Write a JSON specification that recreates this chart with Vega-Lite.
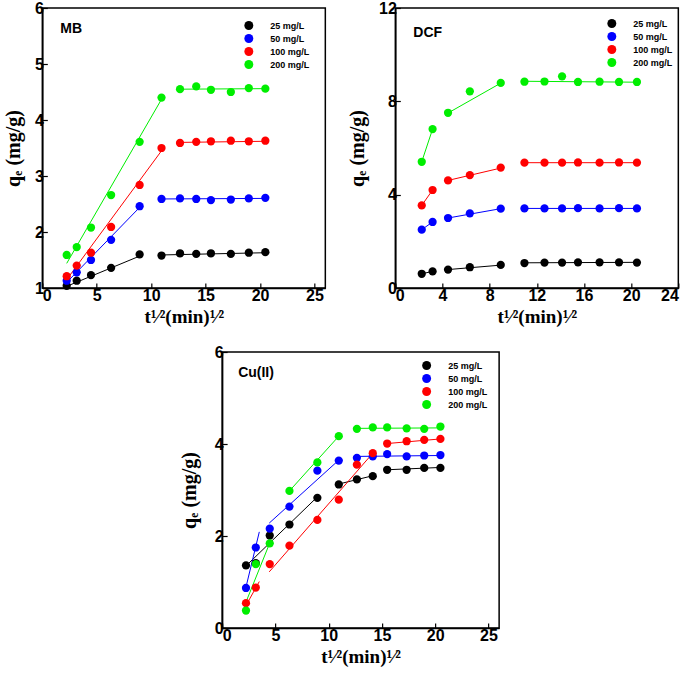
{
  "$schema": "https://vega.github.io/schema/vega-lite/v6.json",
  "padding": {"left": 2, "top": -1, "right": 5, "bottom": 5},
  "background": "white",
  "datasets": {
    "pts": [
      {"p": "MB", "c": "25 mg/L", "x": 2.24, "q": 1.04},
      {"p": "MB", "c": "25 mg/L", "x": 3.16, "q": 1.13},
      {"p": "MB", "c": "25 mg/L", "x": 4.47, "q": 1.23},
      {"p": "MB", "c": "25 mg/L", "x": 6.32, "q": 1.36},
      {"p": "MB", "c": "25 mg/L", "x": 8.94, "q": 1.6},
      {"p": "MB", "c": "25 mg/L", "x": 10.95, "q": 1.58},
      {"p": "MB", "c": "25 mg/L", "x": 12.65, "q": 1.62},
      {"p": "MB", "c": "25 mg/L", "x": 14.14, "q": 1.61},
      {"p": "MB", "c": "25 mg/L", "x": 15.49, "q": 1.62},
      {"p": "MB", "c": "25 mg/L", "x": 17.32, "q": 1.61},
      {"p": "MB", "c": "25 mg/L", "x": 18.97, "q": 1.63},
      {"p": "MB", "c": "25 mg/L", "x": 20.49, "q": 1.64},
      {"p": "MB", "c": "50 mg/L", "x": 2.24, "q": 1.13},
      {"p": "MB", "c": "50 mg/L", "x": 3.16, "q": 1.28},
      {"p": "MB", "c": "50 mg/L", "x": 4.47, "q": 1.5},
      {"p": "MB", "c": "50 mg/L", "x": 6.32, "q": 1.86},
      {"p": "MB", "c": "50 mg/L", "x": 8.94, "q": 2.46},
      {"p": "MB", "c": "50 mg/L", "x": 10.95, "q": 2.59},
      {"p": "MB", "c": "50 mg/L", "x": 12.65, "q": 2.6},
      {"p": "MB", "c": "50 mg/L", "x": 14.14, "q": 2.59},
      {"p": "MB", "c": "50 mg/L", "x": 15.49, "q": 2.57},
      {"p": "MB", "c": "50 mg/L", "x": 17.32, "q": 2.58},
      {"p": "MB", "c": "50 mg/L", "x": 18.97, "q": 2.6},
      {"p": "MB", "c": "50 mg/L", "x": 20.49, "q": 2.61},
      {"p": "MB", "c": "100 mg/L", "x": 2.24, "q": 1.21},
      {"p": "MB", "c": "100 mg/L", "x": 3.16, "q": 1.4},
      {"p": "MB", "c": "100 mg/L", "x": 4.47, "q": 1.63},
      {"p": "MB", "c": "100 mg/L", "x": 6.32, "q": 2.09},
      {"p": "MB", "c": "100 mg/L", "x": 8.94, "q": 2.84},
      {"p": "MB", "c": "100 mg/L", "x": 10.95, "q": 3.5},
      {"p": "MB", "c": "100 mg/L", "x": 12.65, "q": 3.59},
      {"p": "MB", "c": "100 mg/L", "x": 14.14, "q": 3.61},
      {"p": "MB", "c": "100 mg/L", "x": 15.49, "q": 3.62},
      {"p": "MB", "c": "100 mg/L", "x": 17.32, "q": 3.63},
      {"p": "MB", "c": "100 mg/L", "x": 18.97, "q": 3.62},
      {"p": "MB", "c": "100 mg/L", "x": 20.49, "q": 3.63},
      {"p": "MB", "c": "200 mg/L", "x": 2.24, "q": 1.59},
      {"p": "MB", "c": "200 mg/L", "x": 3.16, "q": 1.73},
      {"p": "MB", "c": "200 mg/L", "x": 4.47, "q": 2.08},
      {"p": "MB", "c": "200 mg/L", "x": 6.32, "q": 2.66},
      {"p": "MB", "c": "200 mg/L", "x": 8.94, "q": 3.61},
      {"p": "MB", "c": "200 mg/L", "x": 10.95, "q": 4.4},
      {"p": "MB", "c": "200 mg/L", "x": 12.65, "q": 4.55},
      {"p": "MB", "c": "200 mg/L", "x": 14.14, "q": 4.6},
      {"p": "MB", "c": "200 mg/L", "x": 15.49, "q": 4.54},
      {"p": "MB", "c": "200 mg/L", "x": 17.32, "q": 4.5},
      {"p": "MB", "c": "200 mg/L", "x": 18.97, "q": 4.57},
      {"p": "MB", "c": "200 mg/L", "x": 20.49, "q": 4.56},
      {"p": "DCF", "c": "25 mg/L", "x": 2.24, "q": 0.61},
      {"p": "DCF", "c": "25 mg/L", "x": 3.16, "q": 0.71},
      {"p": "DCF", "c": "25 mg/L", "x": 4.47, "q": 0.79},
      {"p": "DCF", "c": "25 mg/L", "x": 6.32, "q": 0.89},
      {"p": "DCF", "c": "25 mg/L", "x": 8.94, "q": 0.99},
      {"p": "DCF", "c": "25 mg/L", "x": 10.95, "q": 1.07},
      {"p": "DCF", "c": "25 mg/L", "x": 12.65, "q": 1.09},
      {"p": "DCF", "c": "25 mg/L", "x": 14.14, "q": 1.09},
      {"p": "DCF", "c": "25 mg/L", "x": 15.49, "q": 1.1},
      {"p": "DCF", "c": "25 mg/L", "x": 17.32, "q": 1.1},
      {"p": "DCF", "c": "25 mg/L", "x": 18.97, "q": 1.1},
      {"p": "DCF", "c": "25 mg/L", "x": 20.49, "q": 1.09},
      {"p": "DCF", "c": "50 mg/L", "x": 2.24, "q": 2.5},
      {"p": "DCF", "c": "50 mg/L", "x": 3.16, "q": 2.83},
      {"p": "DCF", "c": "50 mg/L", "x": 4.47, "q": 3.0},
      {"p": "DCF", "c": "50 mg/L", "x": 6.32, "q": 3.2},
      {"p": "DCF", "c": "50 mg/L", "x": 8.94, "q": 3.4},
      {"p": "DCF", "c": "50 mg/L", "x": 10.95, "q": 3.41},
      {"p": "DCF", "c": "50 mg/L", "x": 12.65, "q": 3.41},
      {"p": "DCF", "c": "50 mg/L", "x": 14.14, "q": 3.41},
      {"p": "DCF", "c": "50 mg/L", "x": 15.49, "q": 3.42},
      {"p": "DCF", "c": "50 mg/L", "x": 17.32, "q": 3.41},
      {"p": "DCF", "c": "50 mg/L", "x": 18.97, "q": 3.42},
      {"p": "DCF", "c": "50 mg/L", "x": 20.49, "q": 3.41},
      {"p": "DCF", "c": "100 mg/L", "x": 2.24, "q": 3.54},
      {"p": "DCF", "c": "100 mg/L", "x": 3.16, "q": 4.2},
      {"p": "DCF", "c": "100 mg/L", "x": 4.47, "q": 4.61},
      {"p": "DCF", "c": "100 mg/L", "x": 6.32, "q": 4.84},
      {"p": "DCF", "c": "100 mg/L", "x": 8.94, "q": 5.16},
      {"p": "DCF", "c": "100 mg/L", "x": 10.95, "q": 5.37},
      {"p": "DCF", "c": "100 mg/L", "x": 12.65, "q": 5.37},
      {"p": "DCF", "c": "100 mg/L", "x": 14.14, "q": 5.37},
      {"p": "DCF", "c": "100 mg/L", "x": 15.49, "q": 5.38},
      {"p": "DCF", "c": "100 mg/L", "x": 17.32, "q": 5.37},
      {"p": "DCF", "c": "100 mg/L", "x": 18.97, "q": 5.38},
      {"p": "DCF", "c": "100 mg/L", "x": 20.49, "q": 5.37},
      {"p": "DCF", "c": "200 mg/L", "x": 2.24, "q": 5.41},
      {"p": "DCF", "c": "200 mg/L", "x": 3.16, "q": 6.81},
      {"p": "DCF", "c": "200 mg/L", "x": 4.47, "q": 7.51},
      {"p": "DCF", "c": "200 mg/L", "x": 6.32, "q": 8.43},
      {"p": "DCF", "c": "200 mg/L", "x": 8.94, "q": 8.79},
      {"p": "DCF", "c": "200 mg/L", "x": 10.95, "q": 8.84},
      {"p": "DCF", "c": "200 mg/L", "x": 12.65, "q": 8.85},
      {"p": "DCF", "c": "200 mg/L", "x": 14.14, "q": 9.07},
      {"p": "DCF", "c": "200 mg/L", "x": 15.49, "q": 8.83},
      {"p": "DCF", "c": "200 mg/L", "x": 17.32, "q": 8.84},
      {"p": "DCF", "c": "200 mg/L", "x": 18.97, "q": 8.83},
      {"p": "DCF", "c": "200 mg/L", "x": 20.49, "q": 8.83},
      {"p": "Cu", "c": "25 mg/L", "x": 2.24, "q": 1.36},
      {"p": "Cu", "c": "25 mg/L", "x": 3.16, "q": 1.41},
      {"p": "Cu", "c": "25 mg/L", "x": 4.47, "q": 2.01},
      {"p": "Cu", "c": "25 mg/L", "x": 6.32, "q": 2.25},
      {"p": "Cu", "c": "25 mg/L", "x": 8.94, "q": 2.83},
      {"p": "Cu", "c": "25 mg/L", "x": 10.95, "q": 3.12},
      {"p": "Cu", "c": "25 mg/L", "x": 12.65, "q": 3.23},
      {"p": "Cu", "c": "25 mg/L", "x": 14.14, "q": 3.3},
      {"p": "Cu", "c": "25 mg/L", "x": 15.49, "q": 3.44},
      {"p": "Cu", "c": "25 mg/L", "x": 17.32, "q": 3.44},
      {"p": "Cu", "c": "25 mg/L", "x": 18.97, "q": 3.48},
      {"p": "Cu", "c": "25 mg/L", "x": 20.49, "q": 3.48},
      {"p": "Cu", "c": "50 mg/L", "x": 2.24, "q": 0.87},
      {"p": "Cu", "c": "50 mg/L", "x": 3.16, "q": 1.75},
      {"p": "Cu", "c": "50 mg/L", "x": 4.47, "q": 2.16},
      {"p": "Cu", "c": "50 mg/L", "x": 6.32, "q": 2.64},
      {"p": "Cu", "c": "50 mg/L", "x": 8.94, "q": 3.42},
      {"p": "Cu", "c": "50 mg/L", "x": 10.95, "q": 3.64},
      {"p": "Cu", "c": "50 mg/L", "x": 12.65, "q": 3.7},
      {"p": "Cu", "c": "50 mg/L", "x": 14.14, "q": 3.73},
      {"p": "Cu", "c": "50 mg/L", "x": 15.49, "q": 3.78},
      {"p": "Cu", "c": "50 mg/L", "x": 17.32, "q": 3.73},
      {"p": "Cu", "c": "50 mg/L", "x": 18.97, "q": 3.75},
      {"p": "Cu", "c": "50 mg/L", "x": 20.49, "q": 3.76},
      {"p": "Cu", "c": "100 mg/L", "x": 2.24, "q": 0.54},
      {"p": "Cu", "c": "100 mg/L", "x": 3.16, "q": 0.88},
      {"p": "Cu", "c": "100 mg/L", "x": 4.47, "q": 1.39},
      {"p": "Cu", "c": "100 mg/L", "x": 6.32, "q": 1.79},
      {"p": "Cu", "c": "100 mg/L", "x": 8.94, "q": 2.35},
      {"p": "Cu", "c": "100 mg/L", "x": 10.95, "q": 2.79},
      {"p": "Cu", "c": "100 mg/L", "x": 12.65, "q": 3.55},
      {"p": "Cu", "c": "100 mg/L", "x": 14.14, "q": 3.8},
      {"p": "Cu", "c": "100 mg/L", "x": 15.49, "q": 4.01},
      {"p": "Cu", "c": "100 mg/L", "x": 17.32, "q": 4.06},
      {"p": "Cu", "c": "100 mg/L", "x": 18.97, "q": 4.09},
      {"p": "Cu", "c": "100 mg/L", "x": 20.49, "q": 4.11},
      {"p": "Cu", "c": "200 mg/L", "x": 2.24, "q": 0.38},
      {"p": "Cu", "c": "200 mg/L", "x": 3.16, "q": 1.39},
      {"p": "Cu", "c": "200 mg/L", "x": 4.47, "q": 1.84},
      {"p": "Cu", "c": "200 mg/L", "x": 6.32, "q": 2.98},
      {"p": "Cu", "c": "200 mg/L", "x": 8.94, "q": 3.6},
      {"p": "Cu", "c": "200 mg/L", "x": 10.95, "q": 4.17},
      {"p": "Cu", "c": "200 mg/L", "x": 12.65, "q": 4.33},
      {"p": "Cu", "c": "200 mg/L", "x": 14.14, "q": 4.36},
      {"p": "Cu", "c": "200 mg/L", "x": 15.49, "q": 4.36},
      {"p": "Cu", "c": "200 mg/L", "x": 17.32, "q": 4.34},
      {"p": "Cu", "c": "200 mg/L", "x": 18.97, "q": 4.33},
      {"p": "Cu", "c": "200 mg/L", "x": 20.49, "q": 4.38}
    ],
    "fit": [
      {"p": "MB", "c": "25 mg/L", "s": 1, "x": 2.24, "q": 1.03},
      {"p": "MB", "c": "25 mg/L", "s": 1, "x": 8.94, "q": 1.57},
      {"p": "MB", "c": "25 mg/L", "s": 2, "x": 10.95, "q": 1.59},
      {"p": "MB", "c": "25 mg/L", "s": 2, "x": 20.49, "q": 1.63},
      {"p": "MB", "c": "50 mg/L", "s": 1, "x": 2.24, "q": 1.1},
      {"p": "MB", "c": "50 mg/L", "s": 1, "x": 8.94, "q": 2.44},
      {"p": "MB", "c": "50 mg/L", "s": 2, "x": 10.95, "q": 2.59},
      {"p": "MB", "c": "50 mg/L", "s": 2, "x": 20.49, "q": 2.6},
      {"p": "MB", "c": "100 mg/L", "s": 1, "x": 2.24, "q": 1.15},
      {"p": "MB", "c": "100 mg/L", "s": 1, "x": 10.95, "q": 3.45},
      {"p": "MB", "c": "100 mg/L", "s": 2, "x": 12.65, "q": 3.6},
      {"p": "MB", "c": "100 mg/L", "s": 2, "x": 20.49, "q": 3.62},
      {"p": "MB", "c": "200 mg/L", "s": 1, "x": 2.24, "q": 1.44},
      {"p": "MB", "c": "200 mg/L", "s": 1, "x": 10.95, "q": 4.37},
      {"p": "MB", "c": "200 mg/L", "s": 2, "x": 12.65, "q": 4.55},
      {"p": "MB", "c": "200 mg/L", "s": 2, "x": 20.49, "q": 4.56},
      {"p": "DCF", "c": "25 mg/L", "s": 1, "x": 2.24, "q": 0.61},
      {"p": "DCF", "c": "25 mg/L", "s": 1, "x": 3.16, "q": 0.71},
      {"p": "DCF", "c": "25 mg/L", "s": 2, "x": 4.47, "q": 0.79},
      {"p": "DCF", "c": "25 mg/L", "s": 2, "x": 8.94, "q": 0.98},
      {"p": "DCF", "c": "25 mg/L", "s": 3, "x": 10.95, "q": 1.08},
      {"p": "DCF", "c": "25 mg/L", "s": 3, "x": 20.49, "q": 1.1},
      {"p": "DCF", "c": "50 mg/L", "s": 1, "x": 2.24, "q": 2.5},
      {"p": "DCF", "c": "50 mg/L", "s": 1, "x": 3.16, "q": 2.83},
      {"p": "DCF", "c": "50 mg/L", "s": 2, "x": 4.47, "q": 3.0},
      {"p": "DCF", "c": "50 mg/L", "s": 2, "x": 8.94, "q": 3.4},
      {"p": "DCF", "c": "50 mg/L", "s": 3, "x": 10.95, "q": 3.41},
      {"p": "DCF", "c": "50 mg/L", "s": 3, "x": 20.49, "q": 3.41},
      {"p": "DCF", "c": "100 mg/L", "s": 1, "x": 2.24, "q": 3.54},
      {"p": "DCF", "c": "100 mg/L", "s": 1, "x": 3.16, "q": 4.2},
      {"p": "DCF", "c": "100 mg/L", "s": 2, "x": 4.47, "q": 4.61},
      {"p": "DCF", "c": "100 mg/L", "s": 2, "x": 8.94, "q": 5.14},
      {"p": "DCF", "c": "100 mg/L", "s": 3, "x": 10.95, "q": 5.37},
      {"p": "DCF", "c": "100 mg/L", "s": 3, "x": 20.49, "q": 5.37},
      {"p": "DCF", "c": "200 mg/L", "s": 1, "x": 2.24, "q": 5.41},
      {"p": "DCF", "c": "200 mg/L", "s": 1, "x": 3.16, "q": 6.81},
      {"p": "DCF", "c": "200 mg/L", "s": 2, "x": 4.47, "q": 7.5},
      {"p": "DCF", "c": "200 mg/L", "s": 2, "x": 8.94, "q": 8.78},
      {"p": "DCF", "c": "200 mg/L", "s": 3, "x": 10.95, "q": 8.86},
      {"p": "DCF", "c": "200 mg/L", "s": 3, "x": 20.49, "q": 8.82},
      {"p": "Cu", "c": "25 mg/L", "s": 1, "x": 2.24, "q": 1.35},
      {"p": "Cu", "c": "25 mg/L", "s": 1, "x": 8.94, "q": 2.85},
      {"p": "Cu", "c": "25 mg/L", "s": 2, "x": 10.95, "q": 3.13},
      {"p": "Cu", "c": "25 mg/L", "s": 2, "x": 14.14, "q": 3.31},
      {"p": "Cu", "c": "25 mg/L", "s": 3, "x": 15.49, "q": 3.44},
      {"p": "Cu", "c": "25 mg/L", "s": 3, "x": 20.49, "q": 3.49},
      {"p": "Cu", "c": "50 mg/L", "s": 1, "x": 2.24, "q": 0.89},
      {"p": "Cu", "c": "50 mg/L", "s": 1, "x": 3.49, "q": 2.09},
      {"p": "Cu", "c": "50 mg/L", "s": 2, "x": 4.42, "q": 2.28},
      {"p": "Cu", "c": "50 mg/L", "s": 2, "x": 10.95, "q": 3.65},
      {"p": "Cu", "c": "50 mg/L", "s": 3, "x": 12.65, "q": 3.73},
      {"p": "Cu", "c": "50 mg/L", "s": 3, "x": 20.49, "q": 3.75},
      {"p": "Cu", "c": "100 mg/L", "s": 1, "x": 2.24, "q": 0.49},
      {"p": "Cu", "c": "100 mg/L", "s": 1, "x": 3.49, "q": 1.01},
      {"p": "Cu", "c": "100 mg/L", "s": 2, "x": 4.42, "q": 1.22},
      {"p": "Cu", "c": "100 mg/L", "s": 2, "x": 14.14, "q": 3.8},
      {"p": "Cu", "c": "100 mg/L", "s": 3, "x": 15.49, "q": 4.01},
      {"p": "Cu", "c": "100 mg/L", "s": 3, "x": 20.49, "q": 4.11},
      {"p": "Cu", "c": "200 mg/L", "s": 1, "x": 2.18, "q": 0.53},
      {"p": "Cu", "c": "200 mg/L", "s": 1, "x": 4.58, "q": 1.91},
      {"p": "Cu", "c": "200 mg/L", "s": 2, "x": 6.32, "q": 2.98},
      {"p": "Cu", "c": "200 mg/L", "s": 2, "x": 10.95, "q": 4.17},
      {"p": "Cu", "c": "200 mg/L", "s": 3, "x": 12.65, "q": 4.34},
      {"p": "Cu", "c": "200 mg/L", "s": 3, "x": 20.49, "q": 4.35}
    ]
  },
  "spacing": 16,
  "center": true,
  "vconcat": [
    {
      "spacing": 20,
      "hconcat": [
        {
          "width": 283,
          "height": 280,
          "title": {"text": "MB", "anchor": "start", "frame": "group", "dx": 18, "offset": -36},
          "layer": [
            {
              "data": {"name": "fit"},
              "transform": [{"filter": "datum.p == 'MB'"}],
              "mark": {"type": "line", "strokeWidth": 1},
              "encoding": {
                "x": {"field": "x", "type": "quantitative", "scale": {"domain": [0, 26]}, "axis": {"values": [0, 5, 10, 15, 20, 25]}, "title": "t¹⁄²(min)¹⁄²"},
                "y": {"field": "q", "type": "quantitative", "scale": {"domain": [1, 6]}, "axis": {"values": [1, 2, 3, 4, 5, 6]}, "title": "qₑ (mg/g)"},
                "color": {"field": "c", "type": "nominal", "sort": null, "legend": null},
                "detail": {"field": "s"}
              }
            },
            {
              "data": {"name": "pts"},
              "transform": [{"filter": "datum.p == 'MB'"}],
              "mark": {"type": "point", "filled": true, "opacity": 1, "size": 68},
              "encoding": {
                "x": {"field": "x", "type": "quantitative"},
                "y": {"field": "q", "type": "quantitative"},
                "color": {"field": "c", "type": "nominal", "sort": null, "legend": {"orient": "none", "legendX": 201, "legendY": 12}}
              }
            }
          ],
          "resolve": {"legend": {"color": "independent"}}
        },
        {
          "width": 283,
          "height": 280,
          "title": {"text": "DCF", "anchor": "start", "frame": "group", "dx": 18, "offset": -40},
          "layer": [
            {
              "data": {"name": "fit"},
              "transform": [{"filter": "datum.p == 'DCF'"}],
              "mark": {"type": "line", "strokeWidth": 1},
              "encoding": {
                "x": {"field": "x", "type": "quantitative", "scale": {"domain": [0, 24]}, "axis": {"values": [0, 4, 8, 12, 16, 20, 24]}, "title": "t¹⁄²(min)¹⁄²"},
                "y": {"field": "q", "type": "quantitative", "scale": {"domain": [0, 12]}, "axis": {"values": [0, 4, 8, 12]}, "title": "qₑ (mg/g)"},
                "color": {"field": "c", "type": "nominal", "sort": null, "legend": null},
                "detail": {"field": "s"}
              }
            },
            {
              "data": {"name": "pts"},
              "transform": [{"filter": "datum.p == 'DCF'"}],
              "mark": {"type": "point", "filled": true, "opacity": 1, "size": 68},
              "encoding": {
                "x": {"field": "x", "type": "quantitative"},
                "y": {"field": "q", "type": "quantitative"},
                "color": {"field": "c", "type": "nominal", "sort": null, "legend": {"orient": "none", "legendX": 211, "legendY": 10}}
              }
            }
          ],
          "resolve": {"legend": {"color": "independent"}}
        }
      ]
    },
    {
      "width": 277,
      "height": 276,
      "title": {"text": "Cu(II)", "anchor": "start", "frame": "group", "dx": 16, "offset": -36},
      "layer": [
        {
          "data": {"name": "fit"},
          "transform": [{"filter": "datum.p == 'Cu'"}],
          "mark": {"type": "line", "strokeWidth": 1},
          "encoding": {
            "x": {"field": "x", "type": "quantitative", "scale": {"domain": [0, 26]}, "axis": {"values": [0, 5, 10, 15, 20, 25]}, "title": "t¹⁄²(min)¹⁄²"},
            "y": {"field": "q", "type": "quantitative", "scale": {"domain": [0, 6]}, "axis": {"values": [0, 2, 4, 6], "titlePadding": 15}, "title": "qₑ (mg/g)"},
            "color": {"field": "c", "type": "nominal", "sort": null, "legend": null},
            "detail": {"field": "s"}
          }
        },
        {
          "data": {"name": "pts"},
          "transform": [{"filter": "datum.p == 'Cu'"}],
          "mark": {"type": "point", "filled": true, "opacity": 1, "size": 68},
          "encoding": {
            "x": {"field": "x", "type": "quantitative"},
            "y": {"field": "q", "type": "quantitative"},
            "color": {"field": "c", "type": "nominal", "sort": null, "legend": {"orient": "none", "legendX": 199, "legendY": 8}}
          }
        }
      ],
      "resolve": {"legend": {"color": "independent"}}
    }
  ],
  "config": {
    "view": {"stroke": "black", "strokeWidth": 1.5},
    "scale": {"zero": false},
    "range": {"category": ["#000000", "#0000ff", "#ff0000", "#00ee00"]},
    "title": {"font": "Liberation Sans", "fontSize": 14, "fontWeight": "bold", "color": "black"},
    "axis": {
      "grid": false,
      "labelFont": "Liberation Sans",
      "labelFontWeight": "bold",
      "labelFontSize": 16,
      "labelColor": "black",
      "titleFont": "Liberation Serif",
      "titleFontWeight": "bold",
      "titleFontSize": 19,
      "titleColor": "black",
      "domainColor": "black",
      "domainWidth": 1.5,
      "tickColor": "black",
      "tickWidth": 1.2,
      "tickSize": -5,
      "labelPadding": 4,
      "titlePadding": 4
    },
    "axisY": {"titlePadding": 11, "titleFontSize": 20},
    "legend": {
      "title": null,
      "labelFont": "Liberation Sans",
      "labelFontWeight": "bold",
      "labelFontSize": 9,
      "labelColor": "black",
      "symbolType": "circle",
      "symbolSize": 80,
      "labelOffset": 16,
      "rowPadding": 2
    }
  }
}
